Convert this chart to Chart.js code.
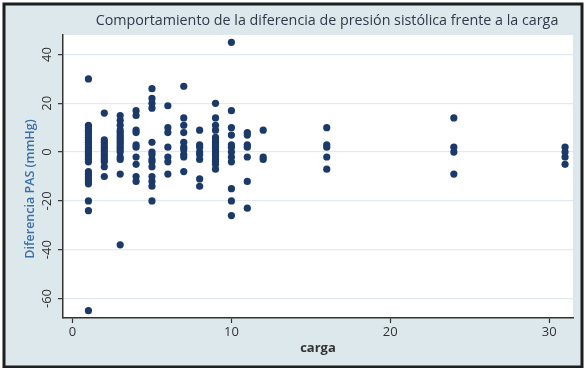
<!DOCTYPE html>
<html>
<head>
<meta charset="utf-8">
<script src="https://cdn.jsdelivr.net/npm/chart.js@4"></script>
<style>
  html, body { margin: 0; padding: 0; background: #ffffff; }
  #wrap { width: 585px; height: 368px; }
</style>
</head>
<body>
<div id="wrap"><canvas id="c" width="585" height="368"></canvas></div>
<script>
// Carga levels (x) and the systolic-pressure differences observed at each one (y)
const cargaLevels = [1, 2, 3, 4, 5, 6, 7, 8, 9, 10, 11, 12, 16, 24, 31];
const difPAS = [
  [30, 11, 10, 9, 8, 7, 6, 5, 4, 3, 2, 1, 0, -1, -2, -3, -4, -8, -9, -10, -11, -12, -13, -20, -24, -65],
  [16, 5, 4, 3, 2, 1, 0, -1, -2, -3, -4, -6, -10],
  [15, 13, 11, 9, 8, 7, 6, 5, 4, 3, 2, 1, 0, -2, -3, -9, -38],
  [17, 15, 9, 8, 3, 2, -2, -5, -10, -12],
  [26, 22, 20, 18, 4, 0, -1, -3, -4, -6, -10, -12, -14, -20],
  [19, 10, 8, 2, -2, -4, -9],
  [27, 14, 11, 8, 4, 2, 1, -1, -2, -8],
  [9, 3, 2, 0, -1, -3, -11, -14],
  [20, 14, 11, 9, 6, 5, 4, 3, 2, 1, 0, -1, -2, -3, -4, -5, -7],
  [45, 17, 10, 7, 3, 2, 0, -2, -4, -15, -20, -26],
  [8, 7, 3, 2, -2, -12, -23],
  [9, -2, -3],
  [10, 3, 2, -2, -7],
  [14, 2, 0, -9],
  [2, 0, -2, -5]
];
const xTicks = [0, 10, 20, 30];
const yTicks = [-60, -40, -20, 0, 20, 40];

const chartTitle = 'Comportamiento de la diferencia de presión sistólica frente a la carga';
const yTitle = 'Diferencia PAS (mmHg)';
const xTitle = 'carga';

const points = [];
cargaLevels.forEach((c, i) => {
  difPAS[i].forEach(v => points.push({ x: c, y: v }));
});

const FONT = '"Open Sans", "DejaVu Sans", sans-serif';

// Panel background, frame and white plot region
const backdrop = {
  id: 'backdrop',
  beforeDraw(chart) {
    const { ctx, chartArea: a } = chart;
    ctx.save();
    ctx.fillStyle = '#ffffff';
    ctx.fillRect(0, 0, chart.width, chart.height);
    ctx.fillStyle = '#dce8ec';
    ctx.fillRect(4, 4, 578, 363);
    ctx.strokeStyle = '#1e1e1e';
    ctx.lineWidth = 3;
    ctx.strokeRect(4, 4, 578, 363);
    ctx.fillStyle = '#ffffff';
    ctx.fillRect(a.left, a.top, a.right - a.left, a.bottom - a.top);
    ctx.restore();
  }
};

// Title, rotated y tick labels and y axis title
const annotations = {
  id: 'annotations',
  afterDraw(chart) {
    const { ctx } = chart;
    const ys = chart.scales.y;
    ctx.save();
    // chart title
    ctx.fillStyle = '#2e3a48';
    ctx.font = '14.3px ' + FONT;
    ctx.textAlign = 'center';
    ctx.textBaseline = 'middle';
    ctx.fillText(chartTitle, 327, 21);

    // y tick labels, read bottom to top
    ctx.fillStyle = '#333333';
    ctx.font = '13px ' + FONT;
    yTicks.forEach(v => {
      const py = ys.getPixelForValue(v);
      ctx.save();
      ctx.translate(47, py);
      ctx.rotate(-Math.PI / 2);
      ctx.textAlign = 'center';
      ctx.textBaseline = 'middle';
      ctx.fillText(String(v), 0, 0);
      ctx.restore();
    });

    // y axis title
    ctx.save();
    ctx.translate(30, 189);
    ctx.rotate(-Math.PI / 2);
    ctx.fillStyle = '#3c6fa6';
    ctx.font = '600 12.5px ' + FONT;
    ctx.textAlign = 'center';
    ctx.textBaseline = 'middle';
    ctx.fillText(yTitle, 0, 0);
    ctx.restore();
    ctx.restore();
  }
};

new Chart(document.getElementById('c'), {
  type: 'scatter',
  data: {
    datasets: [{
      data: points,
      pointRadius: 3.6,
      pointHoverRadius: 3.6,
      pointBackgroundColor: '#1b3a69',
      pointBorderWidth: 0,
      showLine: false
    }]
  },
  options: {
    responsive: false,
    animation: false,
    devicePixelRatio: 1,
    layout: { padding: { left: 0, top: 35, right: 12, bottom: 0 } },
    plugins: {
      legend: { display: false },
      tooltip: { enabled: false },
      title: { display: false }
    },
    scales: {
      x: {
        type: 'linear',
        min: -0.6,
        max: 31.5,
        afterBuildTicks: s => { s.ticks = xTicks.map(v => ({ value: v })); },
        afterFit: s => { s.height = 50; },
        grid: { drawOnChartArea: false, drawTicks: true, tickLength: 5, tickColor: '#333333', tickWidth: 1.2 },
        border: { display: true, color: '#333333', width: 1.5 },
        ticks: { color: '#333333', font: { family: FONT, size: 13 }, padding: 1, maxRotation: 0 },
        title: { display: true, text: xTitle, color: '#333333', font: { family: FONT, size: 13, weight: 'bold' }, padding: { top: 0, bottom: 12 } }
      },
      y: {
        type: 'linear',
        min: -68,
        max: 48,
        afterBuildTicks: s => { s.ticks = yTicks.map(v => ({ value: v })); },
        afterFit: s => { s.width = 63; },
        grid: { color: '#e1ebef', lineWidth: 1.3, drawTicks: true, tickLength: 5, tickColor: '#333333', tickWidth: 1.2 },
        border: { display: true, color: '#333333', width: 1.5 },
        ticks: { display: false },
        title: { display: false }
      }
    }
  },
  plugins: [backdrop, annotations]
});
</script>
</body>
</html>
